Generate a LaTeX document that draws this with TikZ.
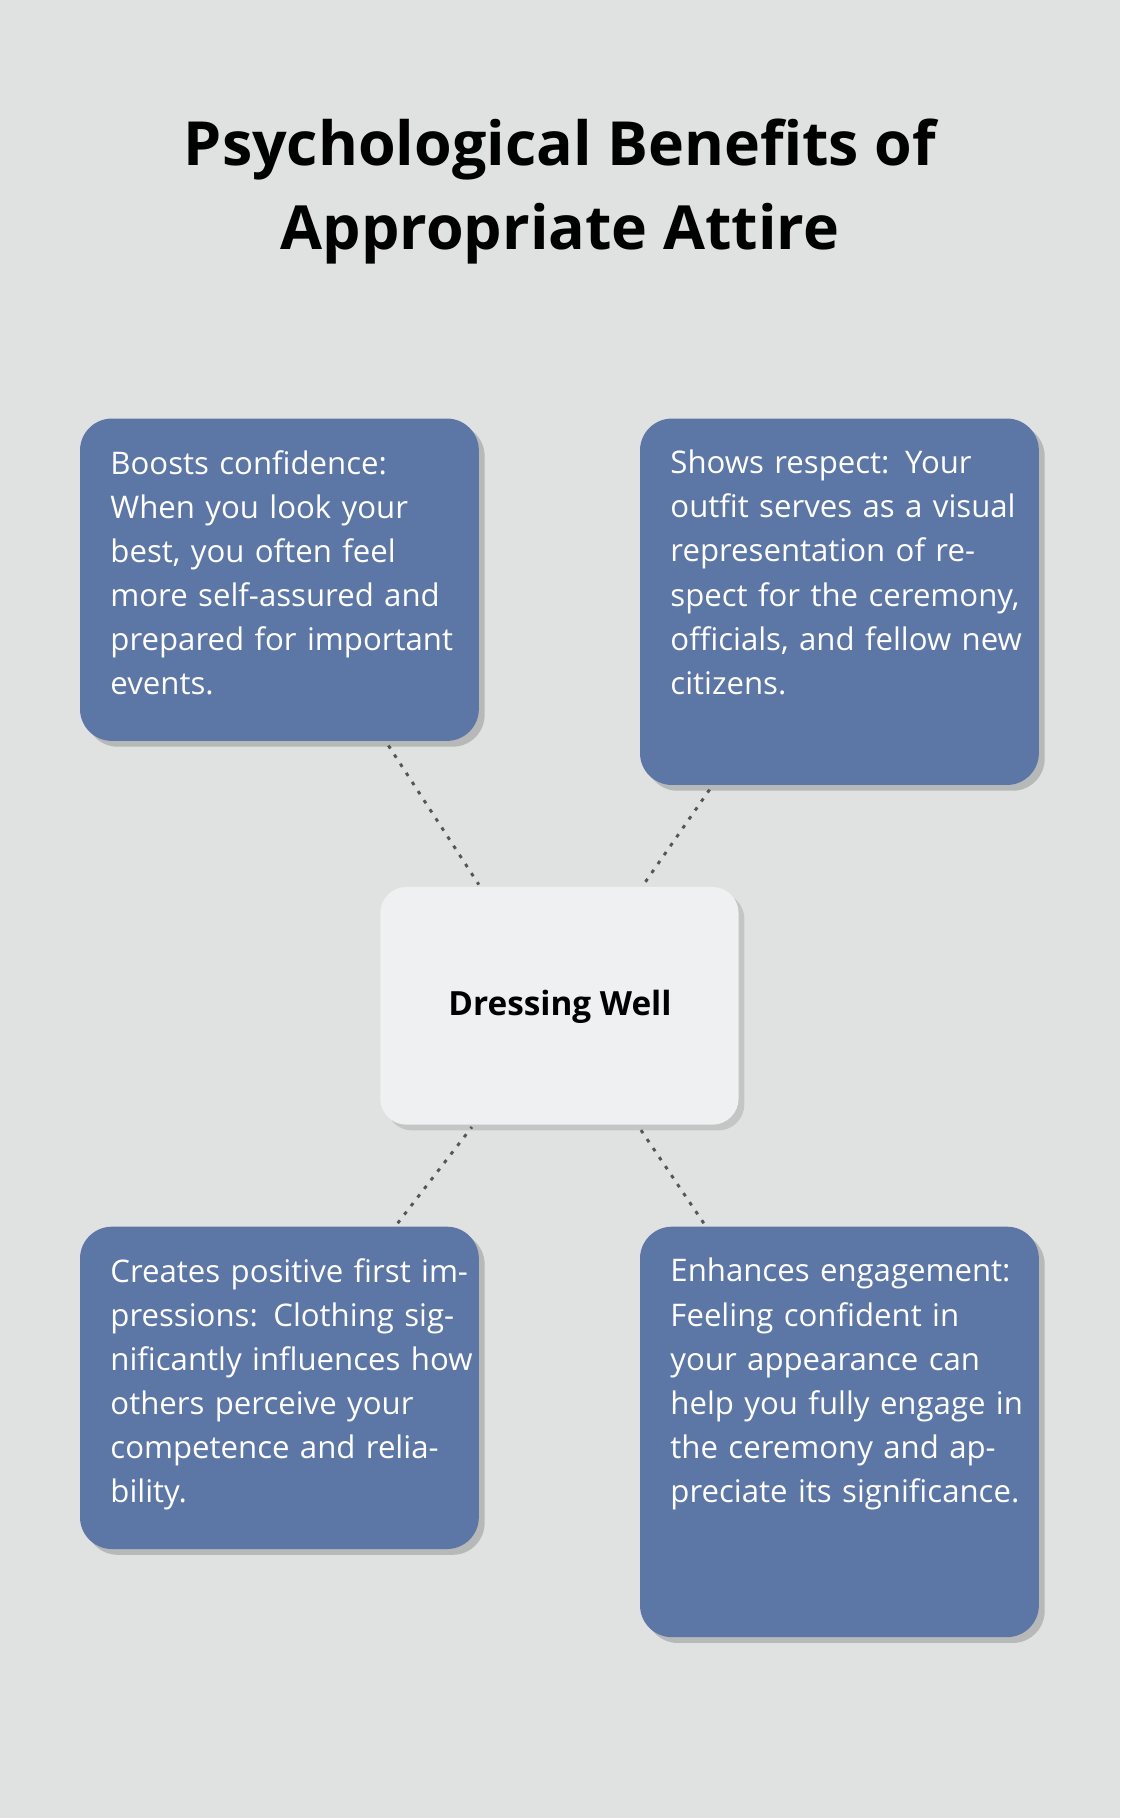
\documentclass[tikz,border=0pt]{standalone}
\usepackage{fontspec}
\setmainfont{Open Sans}
\usetikzlibrary{shadows}
\definecolor{bg}{HTML}{E0E1E1}
\definecolor{boxc}{HTML}{5C76A6}
\definecolor{cbox}{HTML}{EFF0F2}
\definecolor{dotc}{HTML}{555555}
\begin{document}
\begin{tikzpicture}[x=0.8pt,y=-0.8pt,
  card/.style={draw=none,fill=boxc,rounded corners=22pt,drop shadow={shadow xshift=4pt,shadow yshift=-4pt,opacity=0.18,fill=black}},
  ctr/.style={draw=none,fill=cbox,rounded corners=18pt,drop shadow={shadow xshift=4pt,shadow yshift=-4pt,opacity=0.12,fill=black}},
  txt/.style={anchor=north west,text width=250pt,align=left,text=white,font=\fontsize{21.5}{30.4}\selectfont,inner sep=0pt},
  link/.style={draw=dotc,line width=2pt,dash pattern=on 2.5pt off 5pt}]
\fill[bg] (0,0) rectangle (966,1568);
\useasboundingbox (0,0) rectangle (966,1568);
\node[font=\fontsize{42}{58}\selectfont\bfseries,align=center] (title) at (483,165) {Psychological Benefits of\\Appropriate Attire};
\path[card] (69,361) rectangle (413,639);
\path[card] (552,361) rectangle (896,677);
\path[card] (69,1058) rectangle (413,1336);
\path[card] (552,1058) rectangle (896,1412);
\path[ctr] (328,765) rectangle (637,970);
\node[txt] (tl) at (95,388) {Boosts confidence: When you look your best, you often feel more self-assured and prepared for important events.};
\node[txt] (tr) at (578,388) {Shows respect: Your outfit serves as a visual representation of respect for the ceremony, officials, and fellow new citizens.};
\node[txt] (bl) at (95,1085) {Creates positive first impressions: Clothing significantly influences how others perceive your competence and reliability.};
\node[txt] (br) at (578,1085) {Enhances engagement: Feeling confident in your appearance can help you fully engage in the ceremony and appreciate its significance.};
\node[font=\fontsize{23}{28}\selectfont\bfseries] (c) at (483,868) {Dressing Well};
\coordinate (a1) at (335,643); \coordinate (a2) at (413,763);
\coordinate (b1) at (612,681); \coordinate (b2) at (555,763);
\coordinate (c1) at (343,1055); \coordinate (c2) at (407,972);
\coordinate (d1) at (607,1055); \coordinate (d2) at (551,972);
\draw[link] (a1) -- (a2);
\draw[link] (b1) -- (b2);
\draw[link] (c1) -- (c2);
\draw[link] (d1) -- (d2);
\end{tikzpicture}
\end{document}
